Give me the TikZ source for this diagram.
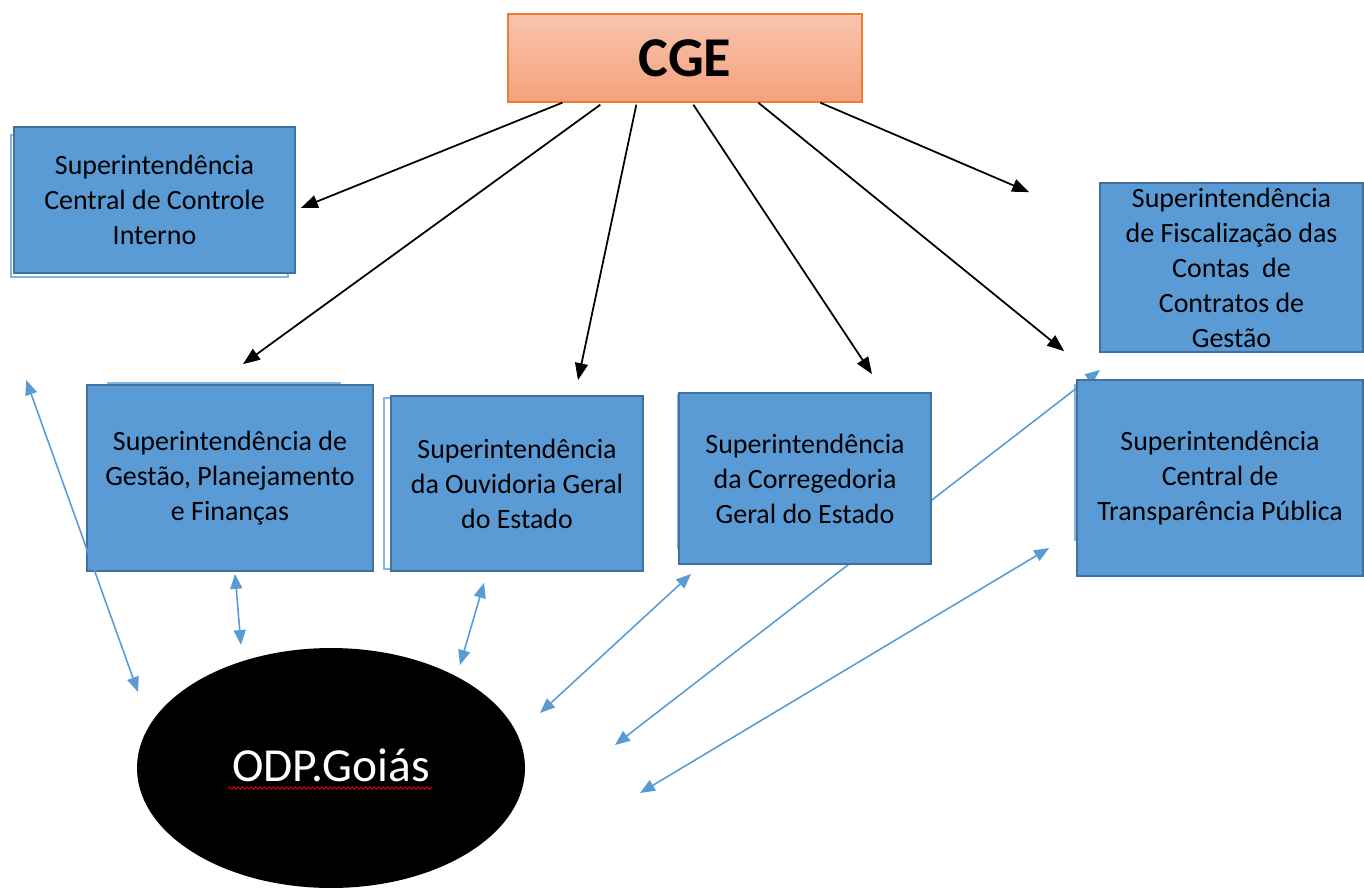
\documentclass[tikz,border=0pt]{standalone}
\usepackage{fontspec}
\setmainfont{Carlito}
\usepackage{tikz}
\usetikzlibrary{arrows.meta,shapes.geometric,decorations.pathmorphing}
\definecolor{boxblue}{HTML}{5B9BD5}
\definecolor{boxedge}{HTML}{41719C}
\definecolor{cgetop}{HTML}{F8C4AE}
\definecolor{cgebot}{HTML}{F4A17C}
\definecolor{cgeedge}{HTML}{ED7D31}
\tikzset{
  superbox/.style={rectangle, draw=boxedge, fill=boxblue, line width=1pt, align=center, inner sep=2pt, font=\fontsize{15.9}{19.9}\selectfont},
  ghostbox/.style={draw=boxblue!75, line width=0.8pt},
  cgearrow/.style={-{Triangle[length=3.4mm,width=2.6mm]}, line width=1pt, black},
  odparrow/.style={{Triangle[length=3mm,width=2.4mm]}-{Triangle[length=3mm,width=2.4mm]}, line width=0.9pt, boxblue},
}
\begin{document}
\begin{tikzpicture}[x=0.02cm, y=-0.02cm]
        \useasboundingbox (0,0) rectangle (1364,892);
        % shadows behind the boxes
        \draw[ghostbox] (11,135) rectangle (288,277);
        \draw[ghostbox] (108,383) rectangle (340,560);
        \draw[ghostbox] (384,398) rectangle (600,569);
        \draw[ghostbox] (678,395) rectangle (900,548);
        \draw[ghostbox] (1075,385) rectangle (1300,540);
        \node (cge) at (685,58) [rectangle, draw=cgeedge, line width=0.8pt, top color=cgetop, bottom color=cgebot, minimum width=7.08cm, minimum height=1.76cm, font=\fontsize{32}{38}\selectfont\bfseries] {CGE};
        \node (odp) at (331,768) [ellipse, fill=black, minimum width=7.76cm, minimum height=4.8cm, text=white, font=\fontsize{27}{32}\selectfont] {\raisebox{3pt}{ODP.Goiás}};
        \draw[red!85!black, line width=0.6pt, decorate, decoration={snake, amplitude=0.6pt, segment length=2.5pt}] ([shift={(-103,20)}]odp.center) -- ([shift={(101,20)}]odp.center);
        % this one passes behind the Corregedoria box
        \draw[odparrow] ([shift={(284,-23)}]odp.center) -- ([shift={(23,-10)}]1077,380);
        \node (controle) at (154.5,200) [superbox, minimum width=5.62cm, minimum height=2.92cm] {Superintendência\\Central de Controle\\Interno};
        \node (gestao) at (230,478) [superbox, minimum width=5.72cm, minimum height=3.72cm] {Superintendência de\\Gestão, Planejamento\\e Finanças};
        \node (ouvidoria) at (517,483.5) [superbox, minimum width=5.04cm, minimum height=3.5cm] {Superintendência\\da Ouvidoria Geral\\do Estado};
        \node (corregedoria) at (805,478.5) [superbox, minimum width=5.04cm, minimum height=3.42cm] {Superintendência\\da Corregedoria\\Geral do Estado};
        \node (fiscalizacao) at (1231.5,267.5) [superbox, minimum width=5.26cm, minimum height=3.38cm] {Superintendência\\de Fiscalização das\\Contas~~de\\Contratos de\\Gestão};
        \node (transparencia) at (1220,478) [superbox, minimum width=5.72cm, minimum height=3.92cm] {Superintendência\\Central de\\Transparência Pública};
        % CGE to the superintendencies
        \draw[cgearrow] ([shift={(55,0)}]cge.south west) -- ([shift={(5,8)}]controle.east);
        \draw[cgearrow] ([shift={(93,2)}]cge.south west) -- ([shift={(13,-20)}]gestao.north);
        \draw[cgearrow] ([shift={(129,2)}]cge.south west) -- ([shift={(61,-15)}]ouvidoria.north);
        \draw[cgearrow] ([shift={(186,2)}]cge.south west) -- ([shift={(67,-18)}]corregedoria.north);
        \draw[cgearrow] ([shift={(251,0)}]cge.south west) -- ([shift={(-12,-28)}]transparencia.north west);
        \draw[cgearrow] ([shift={(313,0)}]cge.south west) -- ([shift={(-70,10)}]fiscalizacao.north west);
        % ODP.Goias and the superintendencies
        \draw[odparrow] ([shift={(-60,-98)}]gestao.west) -- ([shift={(-193,-76)}]odp.center);
        \draw[odparrow] ([shift={(5,2)}]gestao.south) -- ([shift={(-90,-123)}]odp.center);
        \draw[odparrow] ([shift={(-33,11)}]ouvidoria.south) -- ([shift={(129,-103)}]odp.center);
        \draw[odparrow] ([shift={(13,9)}]corregedoria.south west) -- ([shift={(209,-55)}]odp.center);
        \draw[odparrow] ([shift={(309,25)}]odp.center) -- ([shift={(-27,70)}]transparencia.west);
    \end{tikzpicture}
\end{document}
